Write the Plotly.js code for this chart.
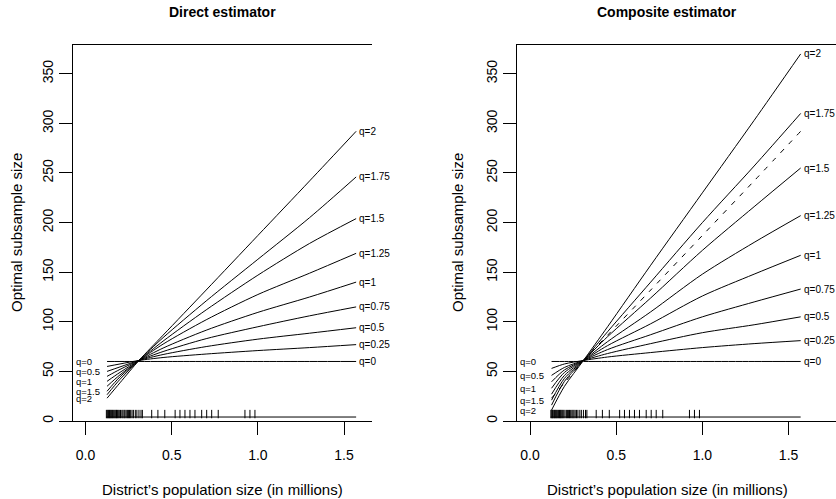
<!DOCTYPE html>
<html>
<head>
<meta charset="utf-8">
<script src="https://cdn.plot.ly/plotly-3.0.1.min.js"></script>
<style>html,body{margin:0;padding:0;background:#fff;}#chart{width:836px;height:499px;}</style>
</head>
<body>
<div id="chart"></div>
<script>
// ---- data ----
const qLabels = ['q=0','q=0.25','q=0.5','q=0.75','q=1','q=1.25','q=1.5','q=1.75','q=2'];
const popX = [0.125, 0.2, 0.31, 0.45, 0.7, 1.0, 1.3, 1.57];

// Direct estimator
const direct_q0   = [60, 60, 60, 60, 60, 60, 60, 60];
const direct_q025 = [55, 57.5, 61, 64, 67.5, 71, 74, 77];
const direct_q05  = [50, 54.5, 61, 67, 75, 82.5, 88.5, 94];
const direct_q075 = [45, 52, 61, 70, 83, 95, 106, 115];
const direct_q1   = [40, 49, 61, 73.5, 91.5, 109.5, 125, 140];
const direct_q125 = [35, 46.5, 61, 77.5, 102, 127.5, 149, 169];
const direct_q15  = [30, 44.5, 61, 80.5, 112, 147, 179, 204];
const direct_q175 = [26.5, 42, 61, 84, 121, 163, 205, 246];
const direct_q2   = [23, 38.5, 61, 86.5, 132, 187, 242, 292];

// Composite estimator
const comp_q0   = [60, 60, 60, 60, 60, 60, 60, 60];
const comp_q025 = [53, 57.5, 61, 64.5, 69, 74, 78, 81];
const comp_q05  = [46, 54, 61, 68, 78, 89, 97, 105];
const comp_q075 = [39.5, 51.5, 61, 72, 87, 105, 120, 133];
const comp_q1   = [33, 49, 61, 76, 98, 126, 148, 167];
const comp_q125 = [27, 46, 61, 80, 110, 148, 180, 207];
const comp_q15  = [21, 43, 61, 85, 124, 172, 216, 255];
const comp_q175 = [16, 40, 61, 90, 140, 200, 257, 310];
const comp_q2   = [11, 35, 61, 95, 157, 230, 303, 370];
// dashed reference line in composite panel (direct q=2)
const comp_dashed = [23, 38.5, 61, 86.5, 132, 187, 242, 292];

// district population sizes (rug)
const districtPop = [0.121,0.126,0.13,0.134,0.139,0.143,0.147,0.152,0.156,0.161,0.166,0.171,0.176,0.18,0.185,0.19,0.196,0.203,0.211,0.217,0.224,0.229,0.236,0.243,0.249,0.255,0.262,0.27,0.278,0.289,0.298,0.31,0.322,0.33,0.384,0.42,0.46,0.52,0.548,0.577,0.606,0.635,0.674,0.703,0.732,0.77,0.925,0.954,0.983];
const rugSpan = [0.12, 1.57];

const xTicks = [0, 0.5, 1, 1.5];
const xTickText = ['0.0','0.5','1.0','1.5'];
const yTicks = [0, 50, 100, 150, 200, 250, 300, 350];

const directSeries = [direct_q0, direct_q025, direct_q05, direct_q075, direct_q1, direct_q125, direct_q15, direct_q175, direct_q2];
const compSeries = [comp_q0, comp_q025, comp_q05, comp_q075, comp_q1, comp_q125, comp_q15, comp_q175, comp_q2];

// ---- build ----
const W = 836, H = 499;
const FONT = 'Liberation Sans, Arial, Helvetica, sans-serif';
const traces = [];
function addPanel(series, xa, ya) {
  series.forEach(s => traces.push({
    x: popX, y: s, xaxis: xa, yaxis: ya, type: 'scatter', mode: 'lines',
    line: {color: '#000', width: 1, shape: 'spline', smoothing: 0.8},
    hoverinfo: 'skip', showlegend: false
  }));
  traces.push({x: rugSpan, y: [4, 4], xaxis: xa, yaxis: ya, type: 'scatter', mode: 'lines',
    line: {color: '#000', width: 1}, hoverinfo: 'skip', showlegend: false});
  traces.push({x: districtPop, y: districtPop.map(() => 7), xaxis: xa, yaxis: ya, type: 'scatter', mode: 'markers',
    marker: {symbol: 'line-ns-open', size: 6, color: '#000', line: {color: '#000', width: 1}}, hoverinfo: 'skip', showlegend: false});
}
addPanel(directSeries, 'x', 'y');
addPanel(compSeries, 'x2', 'y2');
traces.push({x: popX, y: comp_dashed, xaxis: 'x2', yaxis: 'y2', type: 'scatter', mode: 'lines',
  line: {color: '#000', width: 1, dash: '5px,7px', shape: 'spline', smoothing: 0.8}, hoverinfo: 'skip', showlegend: false});

const annotations = [];
function qAnn(series, xa, ya, xEnd, xStart) {
  series.forEach((s, i) => {
    annotations.push({x: xEnd, y: s[s.length - 1], xref: xa, yref: ya, text: qLabels[i], showarrow: false,
      xanchor: 'left', yanchor: 'middle', font: {size: 10, family: FONT, color: '#000'}});
    if (i % 2 === 0) {
      annotations.push({x: xStart, y: s[0], xref: xa, yref: ya, text: qLabels[i], showarrow: false,
        xanchor: 'left', yanchor: 'middle', font: {size: 9.5, family: FONT, color: '#000'}});
    }
  });
}
qAnn(directSeries, 'x', 'y', 1.575, -0.064);
qAnn(compSeries, 'x2', 'y2', 1.575, -0.07);

function pTitle(text, cx) {
  annotations.push({x: cx / W, y: 1 - 12 / H, xref: 'paper', yref: 'paper', text: '<b>' + text + '</b>',
    showarrow: false, xanchor: 'center', yanchor: 'middle', font: {size: 14, family: FONT, color: '#000'}});
}
pTitle('Direct estimator', 222);
pTitle('Composite estimator', 667);
function xTitle(cx) {
  annotations.push({x: cx / W, y: 1 - 489 / H, xref: 'paper', yref: 'paper', text: 'District’s population size (in millions)',
    showarrow: false, xanchor: 'center', yanchor: 'middle', font: {size: 15, family: FONT, color: '#000'}});
}
xTitle(222); xTitle(667);
function yTitle(cx) {
  annotations.push({x: cx / W, y: 1 - 233 / H, xref: 'paper', yref: 'paper', text: 'Optimal subsample size',
    showarrow: false, textangle: -90, xanchor: 'center', yanchor: 'middle', font: {size: 15, family: FONT, color: '#000'}});
}
yTitle(16); yTitle(457);

const xBase = {
  tickvals: xTicks, ticktext: xTickText, ticks: 'outside', ticklen: 13, tickwidth: 1, tickcolor: '#000',
  ticklabelstandoff: 8,
  showline: true, mirror: true, linecolor: '#000', linewidth: 1, showgrid: false, zeroline: false,
  tickfont: {size: 14, family: FONT, color: '#000'}
};
const yBase = {
  tickvals: yTicks, ticks: 'outside', ticklen: 13, tickwidth: 1, tickcolor: '#000', tickangle: -90,
  showline: true, mirror: false, linecolor: '#000', linewidth: 1, showgrid: false, zeroline: false,
  range: [0, 379], tickfont: {size: 14, family: FONT, color: '#000'}
};
const yDom = [1 - 421 / H, 1 - 45 / H];
const layout = {
  width: W, height: H, margin: {l: 0, r: 0, t: 0, b: 0},
  paper_bgcolor: '#fff', plot_bgcolor: '#fff', showlegend: false,
  font: {family: FONT, color: '#000'},
  xaxis: Object.assign({}, xBase, {domain: [73 / W, 372 / W], range: [-0.0725, 1.662], anchor: 'y'}),
  yaxis: Object.assign({}, yBase, {domain: yDom, anchor: 'x'}),
  xaxis2: Object.assign({}, xBase, {domain: [517 / W, 1], range: [-0.0754, 1.775], anchor: 'y2'}),
  yaxis2: Object.assign({}, yBase, {domain: yDom, anchor: 'x2'}),
  annotations: annotations
};
Plotly.newPlot('chart', traces, layout, {staticPlot: true, displayModeBar: false});
</script>
</body>
</html>
